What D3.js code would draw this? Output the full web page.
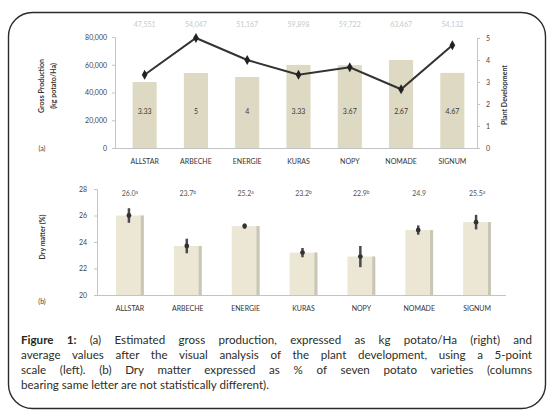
<!DOCTYPE html>
<html>
<head>
<meta charset="utf-8">
<script src="https://cdn.jsdelivr.net/npm/d3@7"></script>
<style>
  html, body { margin: 0; padding: 0; background: #fff; }
  #wrap { position: relative; width: 547px; height: 412px; overflow: hidden; }
  svg { position: absolute; left: 0; top: 0; }
  #caption { position: absolute; left: 21px; top: 332px; width: 511px;
    font-family: Lato, "Open Sans", sans-serif; font-size: 11.6px; line-height: 15px; color: #2e2e26; }
  #caption div { text-align: justify; text-align-last: justify; white-space: nowrap; }
  #caption div.last { text-align-last: left; }
  #caption b { color: #1f2a1a; }
</style>
</head>
<body>
<div id="wrap">
<svg id="chart" width="547" height="412"></svg>
<div id="caption">
  <div><b>Figure 1:</b> (a) Estimated gross production, expressed as kg potato/Ha (right) and</div>
  <div>average values after the visual analysis of the plant development, using a 5-point</div>
  <div>scale (left). (b) Dry matter expressed as % of seven potato varieties (columns</div>
  <div class="last">bearing same letter are not statistically different).</div>
</div>
</div>
<script>
// Potato varieties
const varieties = ["ALLSTAR", "ARBECHE", "ENERGIE", "KURAS", "NOPY", "NOMADE", "SIGNUM"];
// (a) gross production, kg potato/Ha
const production = [47551, 54047, 51167, 59898, 59722, 63467, 54132];
// (a) plant development score, 5-point scale
const development = [3.33, 5, 4, 3.33, 3.67, 2.67, 4.67];
// (b) dry matter, % with standard deviation and significance letters
const dryMatter = [26.0, 23.7, 25.2, 23.2, 22.9, 24.9, 25.5];
const dryErr = [0.55, 0.55, 0.2, 0.35, 0.8, 0.35, 0.55];
const dryLetters = ["a", "b", "a", "b", "b", "", "a"];
// axis ticks
const prodTicks = [0, 20000, 40000, 60000, 80000];
const devTicks = [0, 1, 2, 3, 4, 5];
const dryTicks = [20, 22, 24, 26, 28];

const svg = d3.select("#chart");
const font = "Lato, 'Open Sans', sans-serif";
const axisGray = "#c4c4c4";

// rounded frame
svg.append("rect")
  .attr("x", 8.5).attr("y", 12.5).attr("width", 537).attr("height", 396)
  .attr("rx", 24).attr("ry", 24)
  .attr("fill", "none").attr("stroke", "#2b2b2b").attr("stroke-width", 1.4);

// ---------- (a) production + development ----------
const xA = d3.scaleBand().domain(varieties).range([119, 478])
  .paddingInner(0.53).paddingOuter(0.265);
const yProd = d3.scaleLinear().domain([0, 80000]).range([148, 37]);
const yDev = d3.scaleLinear().domain([0, 5]).range([148, 38]);
const fmt = d3.format(",");

const gA = svg.append("g");

// bars
gA.selectAll("rect.prod").data(varieties).join("rect")
  .attr("class", "prod")
  .attr("x", d => xA(d))
  .attr("y", (d, i) => yProd(production[i]))
  .attr("width", xA.bandwidth())
  .attr("height", (d, i) => yProd(0) - yProd(production[i]))
  .attr("fill", "#ddd9c3");

// production labels above the plot
gA.selectAll("text.prodlab").data(varieties).join("text")
  .attr("x", d => xA(d) + xA.bandwidth() / 2)
  .attr("y", 27)
  .attr("text-anchor", "middle")
  .attr("font-family", font).attr("font-size", 7).attr("fill", "#c9c9c9")
  .text((d, i) => fmt(production[i]));

// development values inside bars
gA.selectAll("text.devlab").data(varieties).join("text")
  .attr("x", d => xA(d) + xA.bandwidth() / 2)
  .attr("y", 114)
  .attr("text-anchor", "middle")
  .attr("font-family", font).attr("font-size", 7).attr("fill", "#3a3a3a")
  .text((d, i) => development[i]);

// axes
const axL = d3.axisLeft(yProd).tickValues(prodTicks).tickFormat(fmt).tickSize(3);
const axR = d3.axisRight(yDev).tickValues(devTicks).tickFormat(d3.format("d")).tickSize(3);
const axBA = d3.axisBottom(xA).tickSize(0);

function styleAxis(g) {
  g.select(".domain").attr("stroke", axisGray);
  g.selectAll(".tick line").attr("stroke", axisGray);
  g.selectAll("text").attr("font-family", font).attr("font-size", 7).attr("fill", "#444");
}
gA.append("g").attr("transform", "translate(115,0)").call(axL).call(styleAxis)
  .call(g => g.selectAll("text").attr("x", -8));
gA.append("g").attr("transform", "translate(477,0)").call(axR).call(styleAxis)
  .call(g => g.selectAll("text").attr("x", 9));
gA.append("line").attr("x1", 115).attr("x2", 477).attr("y1", 148.5).attr("y2", 148.5)
  .attr("stroke", axisGray);
gA.append("g").attr("transform", "translate(0,148)").call(axBA)
  .call(g => g.select(".domain").remove())
  .call(g => g.selectAll("text").attr("font-family", font).attr("font-size", 7)
    .attr("fill", "#333").attr("dy", "1.1em").attr("y", 8));

// development line
const line = d3.line()
  .x((d, i) => xA(varieties[i]) + xA.bandwidth() / 2)
  .y(d => yDev(d));
gA.append("path").datum(development)
  .attr("d", line).attr("fill", "none").attr("stroke", "#333").attr("stroke-width", 2);
gA.selectAll("path.mk").data(development).join("path")
  .attr("d", d3.symbol(d3.symbolDiamond, 28))
  .attr("transform", (d, i) => `translate(${xA(varieties[i]) + xA.bandwidth() / 2},${yDev(d)})`)
  .attr("fill", "#222");

// titles
gA.append("text").attr("transform", "translate(44,86) rotate(-90)")
  .attr("text-anchor", "middle").attr("font-family", font).attr("font-size", 7)
  .attr("font-weight", "bold").attr("fill", "#333").text("Gross Production");
gA.append("text").attr("transform", "translate(56,86) rotate(-90)")
  .attr("text-anchor", "middle").attr("font-family", font).attr("font-size", 7)
  .attr("font-weight", "bold").attr("fill", "#333").text("(kg potato/Ha)");
gA.append("text").attr("transform", "translate(507,95) rotate(-90)")
  .attr("text-anchor", "middle").attr("font-family", font).attr("font-size", 7)
  .attr("font-weight", "bold").attr("fill", "#333").text("Plant Development");
gA.append("text").attr("x", 42).attr("y", 151).attr("text-anchor", "middle")
  .attr("font-family", font).attr("font-size", 7).attr("fill", "#444").text("(a)");

// ---------- (b) dry matter ----------
const xB = d3.scaleBand().domain(varieties).range([101, 506])
  .paddingInner(0.52).paddingOuter(0.26);
const yDry = d3.scaleLinear().domain([20, 28]).range([295, 189]);
const gB = svg.append("g");

gB.selectAll("rect.dry").data(varieties).join("rect")
  .attr("x", d => xB(d))
  .attr("y", (d, i) => yDry(dryMatter[i]))
  .attr("width", xB.bandwidth())
  .attr("height", (d, i) => yDry(20) - yDry(dryMatter[i]))
  .attr("fill", "#ebe7d4");
// shaded right edge of each column
gB.selectAll("rect.edge").data(varieties).join("rect")
  .attr("x", d => xB(d) + xB.bandwidth() - 3)
  .attr("y", (d, i) => yDry(dryMatter[i]))
  .attr("width", 3)
  .attr("height", (d, i) => yDry(20) - yDry(dryMatter[i]))
  .attr("fill", "#c9c6b6");

// error bars
const eb = gB.selectAll("g.err").data(varieties).join("g")
  .attr("transform", d => `translate(${xB(d) + xB.bandwidth() / 2 - 1},0)`);
eb.append("line")
  .attr("y1", (d, i) => yDry(dryMatter[i] + dryErr[i]))
  .attr("y2", (d, i) => yDry(dryMatter[i] - dryErr[i]))
  .attr("stroke", "#4a4a4a").attr("stroke-width", 2.5);
eb.append("circle").attr("cy", (d, i) => yDry(dryMatter[i])).attr("r", 2.4).attr("fill", "#333");

// value labels with letters
const lab = gB.selectAll("text.drylab").data(varieties).join("text")
  .attr("x", d => xB(d) + xB.bandwidth() / 2)
  .attr("y", 196)
  .attr("text-anchor", "middle")
  .attr("font-family", font).attr("font-size", 7).attr("fill", "#555");
lab.append("tspan").text((d, i) => dryMatter[i].toFixed(1));
lab.append("tspan").attr("font-size", 5).attr("dy", -2.5).text((d, i) => dryLetters[i]);

const axLB = d3.axisLeft(yDry).tickValues(dryTicks).tickSize(3);
gB.append("g").attr("transform", "translate(97,0)").call(axLB).call(styleAxis)
  .call(g => g.selectAll("text").attr("x", -10));
gB.append("line").attr("x1", 97).attr("x2", 506).attr("y1", 295.5).attr("y2", 295.5)
  .attr("stroke", axisGray);
gB.append("g").attr("transform", "translate(0,295)").call(d3.axisBottom(xB).tickSize(0))
  .call(g => g.select(".domain").remove())
  .call(g => g.selectAll("text").attr("font-family", font).attr("font-size", 7)
    .attr("fill", "#333").attr("y", 10).attr("dy", "0.9em"));

gB.append("text").attr("transform", "translate(45,237) rotate(-90)")
  .attr("text-anchor", "middle").attr("font-family", font).attr("font-size", 7)
  .attr("font-weight", "bold").attr("fill", "#333").text("Dry matter (%)");
gB.append("text").attr("x", 42).attr("y", 304).attr("text-anchor", "middle")
  .attr("font-family", font).attr("font-size", 7).attr("fill", "#444").text("(b)");
</script>
</body>
</html>
